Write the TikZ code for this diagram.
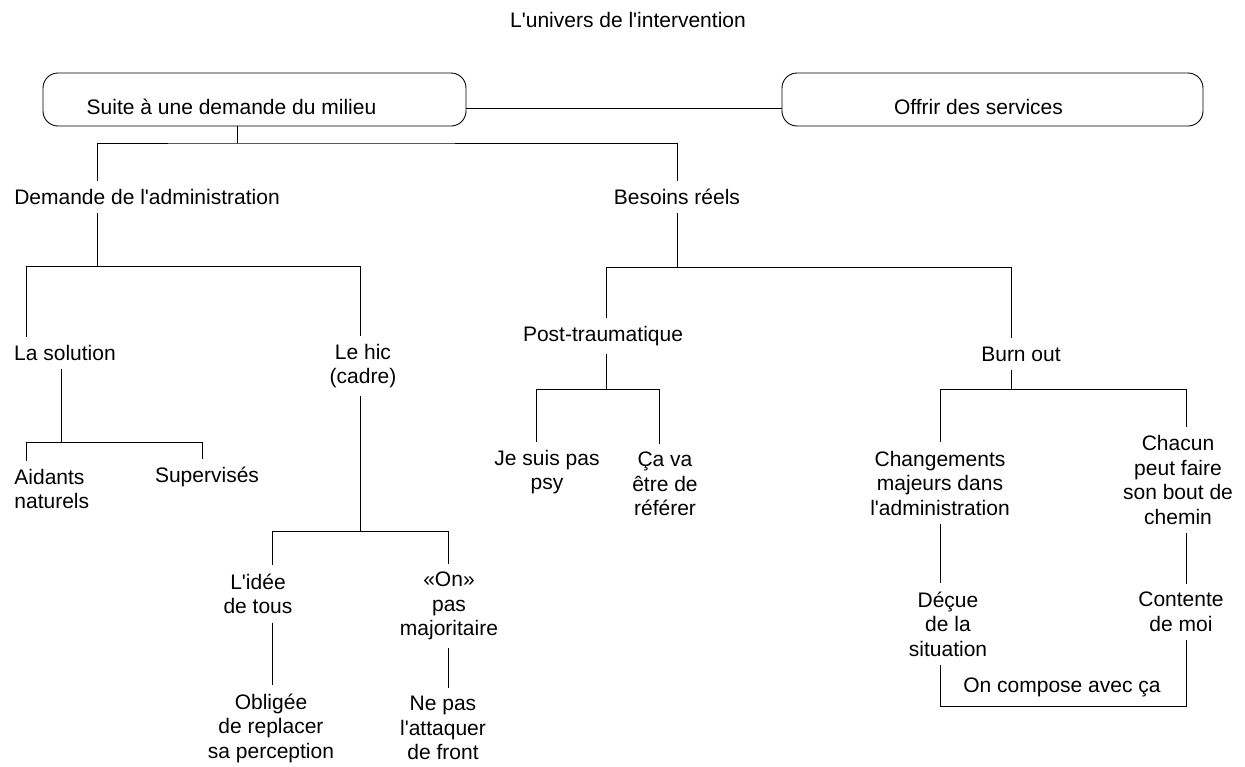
\documentclass[tikz,border=0pt]{standalone}
\usepackage{fontspec}
\setmainfont{Liberation Sans}
\begin{document}
\begin{tikzpicture}[x=1pt,y=-1pt,line width=0.9pt,
    every node/.style={font=\fontsize{21}{24.5}\selectfont, align=center, inner xsep=4pt, inner ysep=8pt},
    box/.style={draw, rounded corners=15pt, minimum width=423pt, minimum height=53pt,
      inner ysep=4pt, text height=29pt, text depth=0pt}]
  \useasboundingbox (0,0) rectangle (1245,766);
  \node (titre) at (628,20) {L\textquotesingle univers de l\textquotesingle intervention};
  \node[box] (suite) at (254.5,99.5) {Suite à une demande du milieu\hspace*{46pt}};
  \node[box, minimum width=421pt] (offrir) at (992.5,99.5) {Offrir des services\hspace*{28pt}};
  \node (dem)  at (147,197) {Demande de l\textquotesingle administration};
  \node (bes)  at (677,197) {Besoins réels};
  \node (sol)  at (65,353) {La solution};
  \node (hic)  at (363,366) {Le hic\\(cadre)};
  \node[anchor=west, align=left] (aid) at (10,489) {Aidants\\naturels};
  \node (sup)  at (207,477) {Supervisés};
  \node (idee) at (258,594) {L\textquotesingle idée\\de tous};
  \node (on)   at (449,606) {«On»\\pas\\majoritaire};
  \node (obl)  at (271,728) {Obligée\\de replacer\\sa perception};
  \node (ne)   at (443,728) {Ne pas\\l\textquotesingle attaquer\\de front};
  \node (post) at (603,336) {Post-traumatique};
  \node (burn) at (1021,354) {Burn out};
  \node (psy)  at (547,472) {Je suis pas\\psy};
  \node (ca)   at (665,484) {Ça va\\être de\\référer};
  \node (chg)  at (940,483) {Changements\\majeurs dans\\l\textquotesingle administration};
  \node (chac) at (1178,480) {Chacun\\peut faire\\son bout de\\chemin};
  \node (dec)  at (948,624) {Déçue\\de la\\situation};
  \node (cont) at (1181,612) {Contente\\de moi};
  \node (comp) at (1062,687) {On compose avec ça};
  % junctions
  \coordinate (jA) at (237,143);
  \coordinate (jB) at (97,266);
  \coordinate (jB1) at (26,266);
  \coordinate (jB2) at (360,266);
  \coordinate (jC) at (61,442);
  \coordinate (jC1) at (26,442);
  \coordinate (jC2) at (202,442);
  \coordinate (jD) at (360,531);
  \coordinate (jD1) at (272,531);
  \coordinate (jD2) at (448,531);
  \coordinate (jE) at (677,267);
  \coordinate (jE1) at (606,267);
  \coordinate (jE2) at (1011,267);
  \coordinate (jF) at (606,389);
  \coordinate (jF1) at (536,389);
  \coordinate (jF2) at (659,389);
  \coordinate (jG) at (1011,389);
  \coordinate (jG1) at (940,389);
  \coordinate (jG2) at (1186,389);
  \coordinate (jH1) at (940,706);
  \coordinate (jH2) at (1186,706);
  % connectors
  \draw ([yshift=-9pt]suite.east) -- ([yshift=-9pt]offrir.west);
  \draw (suite.south -| jA) -- (jA);
  \draw (dem.north -| jB) |- (jA) -| (bes.north);
  \draw (dem.south -| jB) -- (jB);
  \draw (sol.north -| jB1) -- (jB1) -- (jB2) -- (hic.north -| jB2);
  \draw (sol.south -| jC) -- (jC);
  \draw (aid.north -| jC1) -- (jC1) -- (jC2) -- (sup.north -| jC2);
  \draw (hic.south -| jD) -- (jD);
  \draw (idee.north -| jD1) -- (jD1) -- (jD2) -- (on.north -| jD2);
  \draw (idee.south -| jD1) -- (obl.north -| jD1);
  \draw (on.south -| jD2) -- (ne.north -| jD2);
  \draw (bes.south) -- (jE);
  \draw (post.north -| jE1) -- (jE1) -- (jE2) -- (burn.north -| jE2);
  \draw (post.south -| jF) -- (jF);
  \draw (psy.north -| jF1) -- (jF1) -- (jF2) -- (ca.north -| jF2);
  \draw (burn.south -| jG) -- (jG);
  \draw (chg.north -| jG1) -- (jG1) -- (jG2) -- (chac.north -| jG2);
  \draw (chg.south -| jG1) -- (dec.north -| jG1);
  \draw (chac.south -| jG2) -- (cont.north -| jG2);
  \draw (dec.south -| jH1) -- (jH1) -- (jH2) -- (cont.south -| jH2);
\end{tikzpicture}
\end{document}
